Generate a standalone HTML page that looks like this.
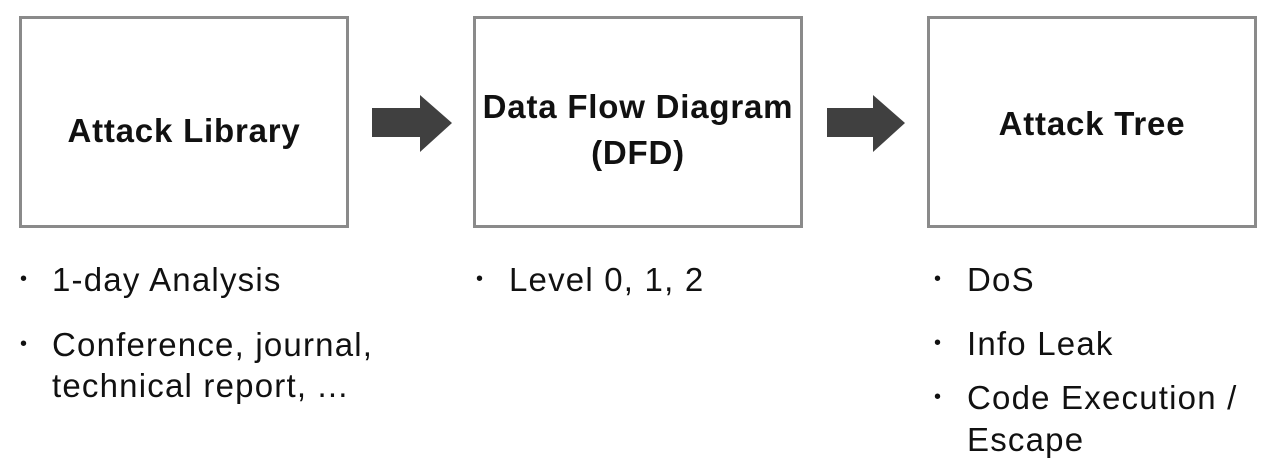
<!DOCTYPE html>
<html><head><style>
body{margin:0;width:1276px;height:475px;background:#fff;position:relative;overflow:hidden;font-family:"Liberation Sans","Noto Sans CJK KR",sans-serif;color:#111}
.box{position:absolute;top:16px;width:324px;height:206px;border:3px solid #8a8a8a;display:flex;align-items:center;justify-content:center;text-align:center;font-weight:bold;font-size:33px;letter-spacing:0.8px;line-height:46px;box-sizing:content-box}
.t{position:absolute;font-size:33px;letter-spacing:1.2px;white-space:nowrap;line-height:41px}
.d{position:absolute;font-size:20px}
</style></head><body>
<div class="box" style="left:19px;"><span style="margin-top:18px">Attack Library</span></div>
<div class="box" style="left:473px;"><span style="margin-top:16px">Data Flow Diagram<br>(DFD)</span></div>
<div class="box" style="left:927px;"><span style="margin-top:4px">Attack Tree</span></div>
<svg style="position:absolute;left:0;top:0" width="1276" height="475">
<polygon points="372,108 420,108 420,95 452,123 420,152 420,137 372,137" fill="#404040"/>
<polygon points="827,108 873,108 873,95 905,123 873,152 873,137 827,137" fill="#404040"/>
</svg>
<div class="d" style="left:20px;top:268px">•</div>
<div class="t" style="left:52px;top:259px">1-day Analysis</div>
<div class="d" style="left:20px;top:333px">•</div>
<div class="t" style="left:52px;top:324px">Conference, journal,<br>technical report, ...</div>
<div class="d" style="left:476px;top:268px">•</div>
<div class="t" style="left:509px;top:259px">Level 0, 1, 2</div>
<div class="d" style="left:934px;top:268px">•</div>
<div class="t" style="left:967px;top:259px">DoS</div>
<div class="d" style="left:934px;top:332px">•</div>
<div class="t" style="left:967px;top:323px">Info Leak</div>
<div class="d" style="left:934px;top:386px">•</div>
<div class="t" style="left:967px;top:377px;line-height:42px">Code Execution /<br>Escape</div>
</body></html>
